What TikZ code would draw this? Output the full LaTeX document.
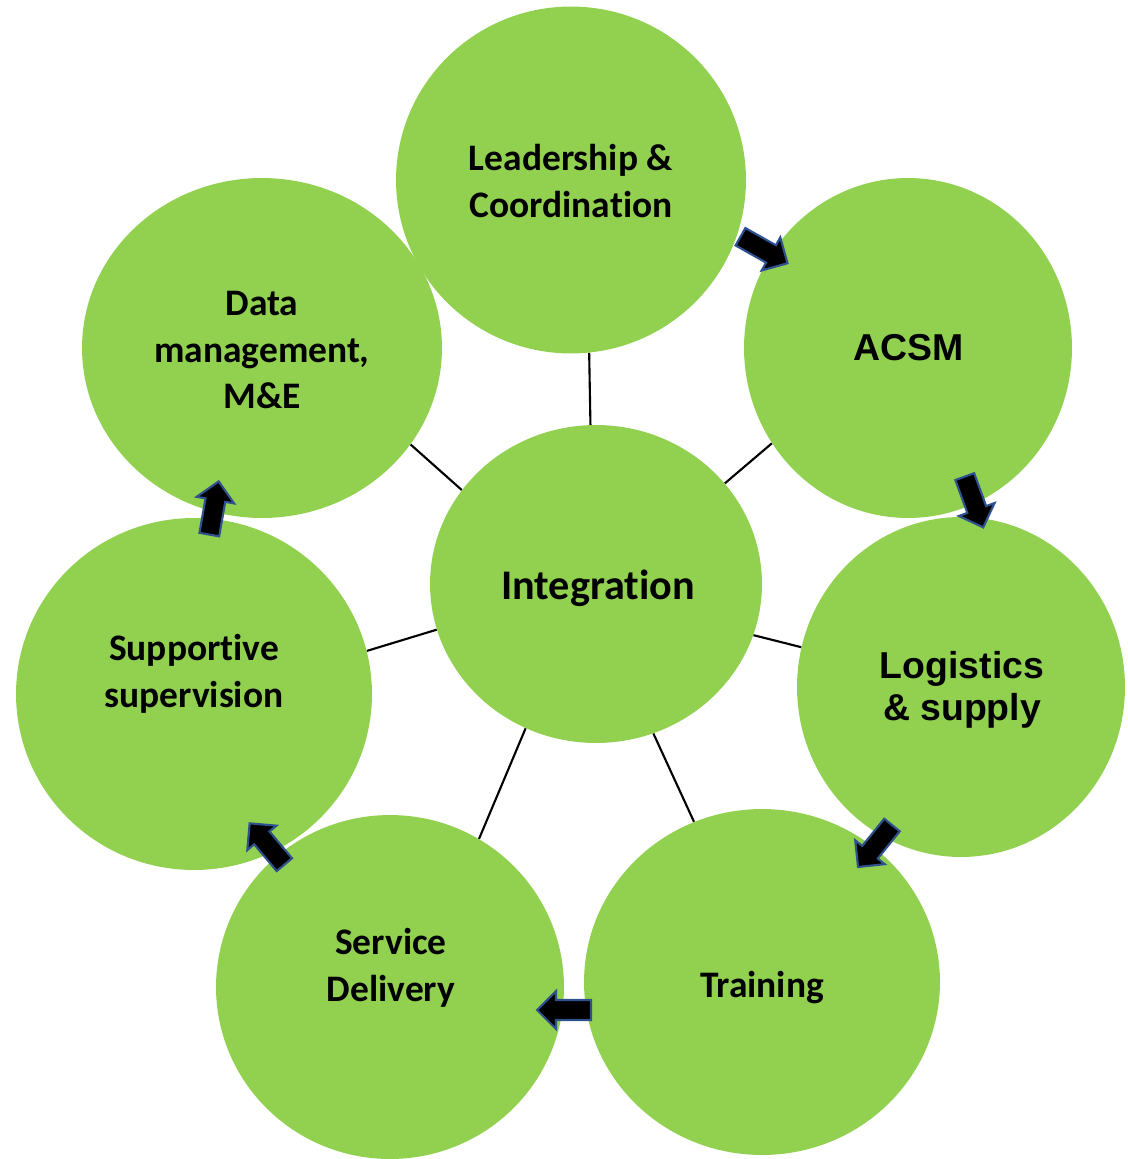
\documentclass[tikz,border=0pt]{standalone}
\usepackage{fontspec}
\setmainfont{Carlito}[Ligatures={NoCommon,NoRequired,NoContextual}]
\newfontfamily\arialfont{Liberation Sans}
\usetikzlibrary{shapes.geometric}
\definecolor{leaf}{HTML}{92D050}
\definecolor{rim}{HTML}{2F528F}
\tikzset{
  hub/.style={ellipse, fill=leaf, draw=none, inner sep=0pt},
  caption/.style={align=center, text=black, font=\bfseries\fontsize{21.3}{26.5}\selectfont},
  sanscaption/.style={align=center, text=black, font=\arialfont\bfseries\fontsize{21.3}{24}\selectfont},
  spoke/.style={draw=black, line width=1.2pt},
  blockarrow/.pic={
    \draw[fill=black, draw=rim, line width=1.2pt, line join=miter]
      (-27,-10) -- (8,-10) -- (8,-19) -- (27,0) -- (8,19) -- (8,10) -- (-27,10) -- cycle;
  }
}
\begin{document}
\begin{tikzpicture}[x=0.02cm, y=-0.02cm]
\useasboundingbox (0,0) rectangle (1127,1159);

% outer circles
\node[hub, minimum width=7.00cm, minimum height=6.94cm] (lead)  at (571,180) {};
\node[hub, minimum width=6.56cm, minimum height=6.80cm] (acsm)  at (908,348) {};
\node[hub, minimum width=6.56cm, minimum height=6.80cm] (logi)  at (961,687) {};
\node[hub, minimum width=7.12cm, minimum height=6.92cm] (train) at (762,982) {};
\node[hub, minimum width=6.96cm, minimum height=6.88cm] (serv)  at (390,987) {};
\node[hub, minimum width=7.12cm, minimum height=7.04cm] (supp)  at (194,694) {};
\node[hub, minimum width=7.20cm, minimum height=6.80cm] (data)  at (262,348) {};

% central circle
\node[hub, minimum width=6.64cm, minimum height=6.36cm] (integ) at (596,584) {};

% spokes from the centre to each outer circle
\draw[spoke] (integ.92.5)  -- (lead.-84);
\draw[spoke] (integ.38)    -- (acsm.-145);
\draw[spoke] (integ.-18.4) -- (logi.166);
\draw[spoke] (integ.-69.5) -- (train.113.6);
\draw[spoke] (integ.244.6) -- (serv.59.7);
\draw[spoke] (integ.196.9) -- (supp.14.2);
\draw[spoke] (integ.145.4) -- (data.-33.8);

% labels
\node[caption] (lead-t)  at (571,181) {Leadership \&\\Coordination};
\node[sanscaption] (acsm-t) at (909,348) {ACSM};
\node[sanscaption] (logi-t) at (962,690) {Logistics\\\& supply};
\node[caption] (train-t) at (762,988) {Training};
\node[caption] (serv-t)  at (391,968) {Service\\Delivery};
\node[caption] (supp-t)  at (194,674) {Supportive\\supervision};
\node[caption] (data-t)  at (262,350) {Data\\management,\\M\&E};
\node[caption, font=\bfseries\fontsize{24}{28}\selectfont] (integ-t) at (598,588) {Integration};

% cycle arrows between neighbouring circles
\pic[rotate=-29.4] (a1) at (764,250)  {blockarrow};
\pic[rotate=-70]   (a2) at (974,502)  {blockarrow};
\pic[rotate=-129]  (a3) at (875,846)  {blockarrow};
\pic[rotate=180]   (a4) at (564,1010) {blockarrow};
\pic[rotate=130]   (a5) at (267,844)  {blockarrow};
\pic[rotate=80]    (a6) at (214,508)  {blockarrow};
\end{tikzpicture}
\end{document}
